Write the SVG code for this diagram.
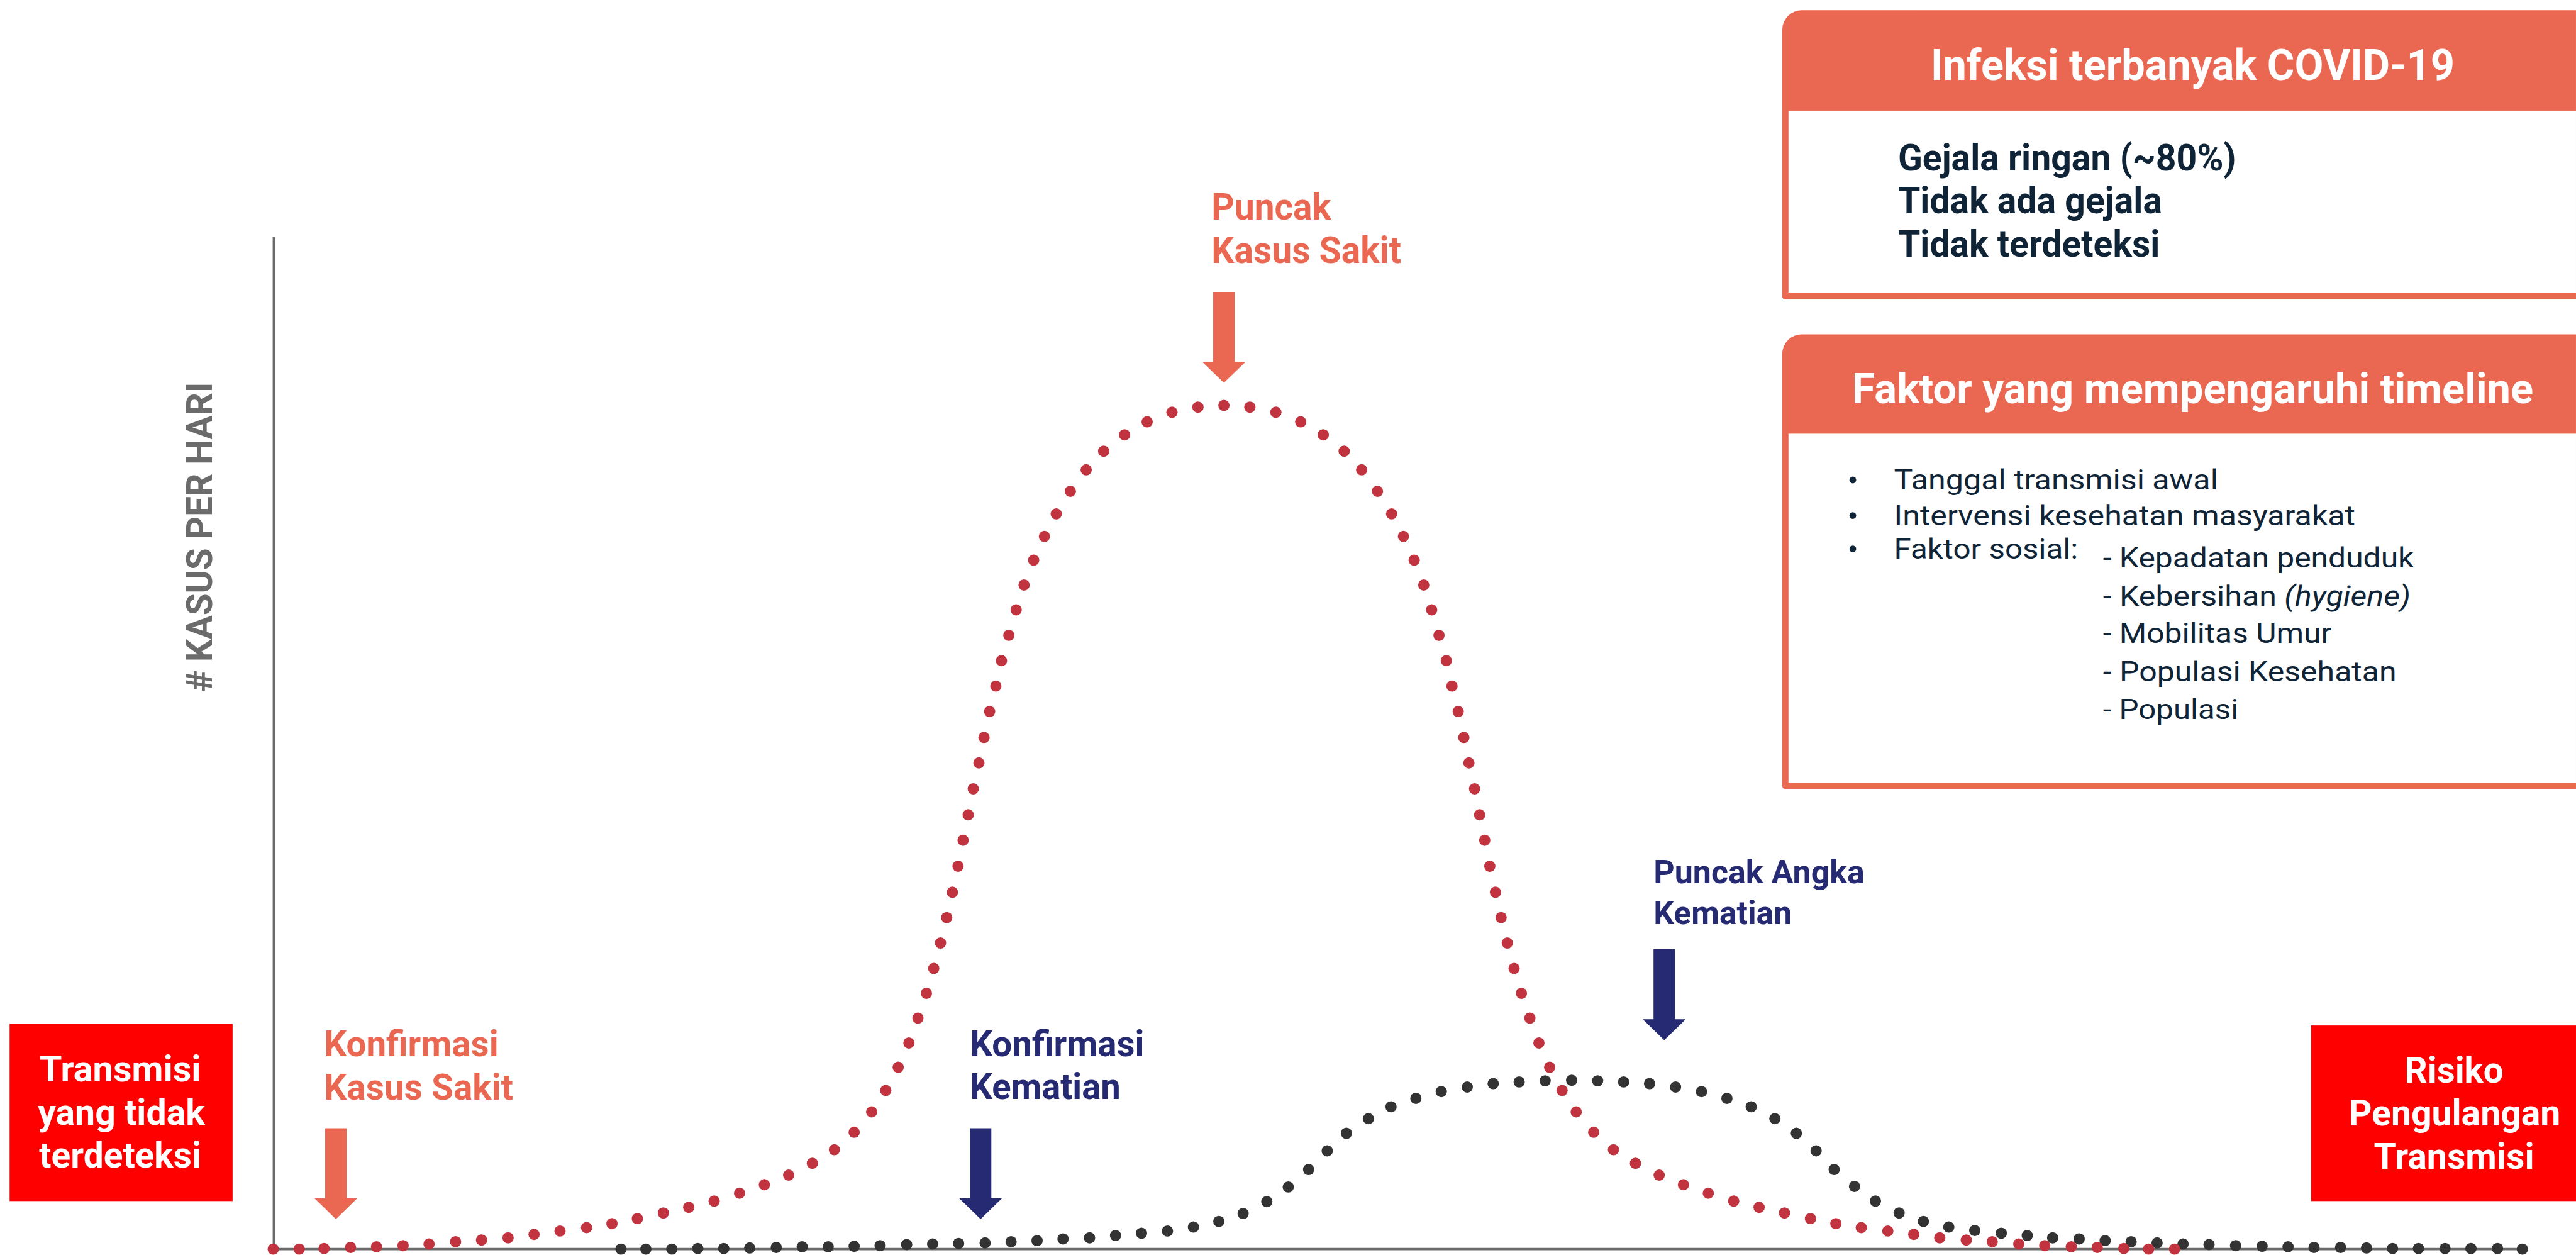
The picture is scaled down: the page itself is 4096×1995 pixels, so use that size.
<svg xmlns="http://www.w3.org/2000/svg" xmlns:xlink="http://www.w3.org/1999/xlink" width="4096" height="1995" viewBox="0 0 4096 1995">
<style>
.b{font-family:Roboto,'Liberation Sans',sans-serif;font-weight:700}
.r{font-family:Roboto,'Liberation Sans',sans-serif;font-weight:400}
.white{fill:#ffffff}
.org{fill:#EA6852}
.navy{fill:#252A72}
.ink{fill:#0F2537}
.gray{fill:#6B6B6B}
.reddot{fill:#C1343F}
.blkdot{fill:#333333}
</style>
<defs>
<path id="arrow" d="M-19,0 H19 V124 H38 L0,161 L-38,124 H-19 Z"/>
</defs>
<rect x="0" y="0" width="4096" height="1995" fill="#ffffff"/>
<g transform="scale(0.89765)">

<g id="axes" fill="none" stroke="#6B6B6B">
<line x1="485" y1="420" x2="485" y2="2212" stroke-width="4"/>
<line x1="484" y1="2212" x2="4476" y2="2212" stroke-width="4"/>
</g>

<g id="y-label">
<text class="b gray" font-size="63" transform="translate(375,951) rotate(-90)" text-anchor="middle" textLength="548" lengthAdjust="spacingAndGlyphs">#  KASUS PER HARI</text>
</g>

<g id="curve-deaths" class="blkdot">
<circle cx="1100" cy="2212" r="10"/><circle cx="1144" cy="2212" r="10"/><circle cx="1190" cy="2212" r="10"/><circle cx="1236" cy="2211" r="10"/><circle cx="1282" cy="2211" r="10"/><circle cx="1328" cy="2210" r="10"/><circle cx="1375" cy="2209" r="10"/><circle cx="1421" cy="2208" r="10"/><circle cx="1467" cy="2208" r="10"/><circle cx="1513" cy="2207" r="10"/><circle cx="1559" cy="2206" r="10"/><circle cx="1606" cy="2204" r="10"/><circle cx="1652" cy="2203" r="10"/><circle cx="1698" cy="2202" r="10"/><circle cx="1745" cy="2201" r="10"/><circle cx="1791" cy="2199" r="10"/><circle cx="1837" cy="2197" r="10"/><circle cx="1883" cy="2194" r="10"/><circle cx="1930" cy="2192" r="10"/><circle cx="1976" cy="2188" r="10"/><circle cx="2022" cy="2184" r="10"/><circle cx="2068" cy="2180" r="10"/><circle cx="2114" cy="2173" r="10"/><circle cx="2159" cy="2163" r="10"/><circle cx="2202" cy="2149" r="10"/><circle cx="2244" cy="2128" r="10"/><circle cx="2282" cy="2102" r="10"/><circle cx="2318" cy="2071" r="10"/><circle cx="2351" cy="2038" r="10"/><circle cx="2385" cy="2007" r="10"/><circle cx="2424" cy="1981" r="10"/><circle cx="2464" cy="1960" r="10"/><circle cx="2508" cy="1945" r="10"/><circle cx="2553" cy="1933" r="10"/><circle cx="2599" cy="1925" r="10"/><circle cx="2645" cy="1919" r="10"/><circle cx="2691" cy="1916" r="10"/><circle cx="2737" cy="1914" r="10"/><circle cx="2784" cy="1913" r="10"/><circle cx="2830" cy="1914" r="10"/><circle cx="2876" cy="1916" r="10"/><circle cx="2922" cy="1919" r="10"/><circle cx="2968" cy="1925" r="10"/><circle cx="3014" cy="1933" r="10"/><circle cx="3059" cy="1945" r="10"/><circle cx="3102" cy="1960" r="10"/><circle cx="3144" cy="1981" r="10"/><circle cx="3182" cy="2007" r="10"/><circle cx="3217" cy="2038" r="10"/><circle cx="3249" cy="2071" r="10"/><circle cx="3285" cy="2101" r="10"/><circle cx="3322" cy="2127" r="10"/><circle cx="3364" cy="2148" r="10"/><circle cx="3407" cy="2163" r="10"/><circle cx="3452" cy="2173" r="10"/><circle cx="3498" cy="2179" r="10"/><circle cx="3545" cy="2184" r="10"/><circle cx="3591" cy="2188" r="10"/><circle cx="3636" cy="2192" r="10"/><circle cx="3683" cy="2194" r="10"/><circle cx="3729" cy="2197" r="10"/><circle cx="3775" cy="2199" r="10"/><circle cx="3821" cy="2201" r="10"/><circle cx="3867" cy="2203" r="10"/><circle cx="3913" cy="2204" r="10"/><circle cx="3960" cy="2206" r="10"/><circle cx="4007" cy="2207" r="10"/><circle cx="4053" cy="2208" r="10"/><circle cx="4099" cy="2209" r="10"/><circle cx="4146" cy="2209" r="10"/><circle cx="4192" cy="2210" r="10"/><circle cx="4238" cy="2211" r="10"/><circle cx="4284" cy="2211" r="10"/><circle cx="4331" cy="2211" r="10"/><circle cx="4377" cy="2211" r="10"/><circle cx="4424" cy="2211" r="10"/><circle cx="4468" cy="2212" r="10"/>
</g>

<g id="curve-cases" class="reddot">
<circle cx="484" cy="2212" r="10"/><circle cx="530" cy="2212" r="10"/><circle cx="574" cy="2211" r="10"/><circle cx="621" cy="2209" r="10"/><circle cx="667" cy="2208" r="10"/><circle cx="714" cy="2206" r="10"/><circle cx="760" cy="2203" r="10"/><circle cx="807" cy="2199" r="10"/><circle cx="853" cy="2196" r="10"/><circle cx="900" cy="2192" r="10"/><circle cx="946" cy="2186" r="10"/><circle cx="992" cy="2180" r="10"/><circle cx="1039" cy="2174" r="10"/><circle cx="1084" cy="2167" r="10"/><circle cx="1129" cy="2158" r="10"/><circle cx="1175" cy="2148" r="10"/><circle cx="1220" cy="2138" r="10"/><circle cx="1265" cy="2127" r="10"/><circle cx="1310" cy="2113" r="10"/><circle cx="1354" cy="2098" r="10"/><circle cx="1397" cy="2081" r="10"/><circle cx="1439" cy="2060" r="10"/><circle cx="1478" cy="2036" r="10"/><circle cx="1513" cy="2005" r="10"/><circle cx="1544" cy="1969" r="10"/><circle cx="1569" cy="1931" r="10"/><circle cx="1591" cy="1890" r="10"/><circle cx="1610" cy="1847" r="10"/><circle cx="1626" cy="1803" r="10"/><circle cx="1641" cy="1759" r="10"/><circle cx="1654" cy="1715" r="10"/><circle cx="1666" cy="1670" r="10"/><circle cx="1677" cy="1625" r="10"/><circle cx="1687" cy="1580" r="10"/><circle cx="1697" cy="1534" r="10"/><circle cx="1706" cy="1488" r="10"/><circle cx="1715" cy="1443" r="10"/><circle cx="1724" cy="1397" r="10"/><circle cx="1734" cy="1351" r="10"/><circle cx="1743" cy="1306" r="10"/><circle cx="1753" cy="1260" r="10"/><circle cx="1764" cy="1215" r="10"/><circle cx="1774" cy="1170" r="10"/><circle cx="1787" cy="1125" r="10"/><circle cx="1800" cy="1080" r="10"/><circle cx="1814" cy="1036" r="10"/><circle cx="1831" cy="992" r="10"/><circle cx="1850" cy="950" r="10"/><circle cx="1871" cy="910" r="10"/><circle cx="1896" cy="870" r="10"/><circle cx="1924" cy="832" r="10"/><circle cx="1955" cy="799" r="10"/><circle cx="1992" cy="770" r="10"/><circle cx="2032" cy="747" r="10"/><circle cx="2076" cy="730" r="10"/><circle cx="2122" cy="721" r="10"/><circle cx="2168" cy="718" r="10"/>
<circle cx="2214" cy="721" r="10"/><circle cx="2260" cy="730" r="10"/><circle cx="2304" cy="747" r="10"/><circle cx="2344" cy="770" r="10"/><circle cx="2381" cy="799" r="10"/><circle cx="2412" cy="832" r="10"/><circle cx="2440" cy="870" r="10"/><circle cx="2465" cy="910" r="10"/><circle cx="2486" cy="950" r="10"/><circle cx="2505" cy="992" r="10"/><circle cx="2522" cy="1036" r="10"/><circle cx="2536" cy="1080" r="10"/><circle cx="2549" cy="1125" r="10"/><circle cx="2562" cy="1170" r="10"/><circle cx="2572" cy="1215" r="10"/><circle cx="2583" cy="1260" r="10"/><circle cx="2593" cy="1306" r="10"/><circle cx="2602" cy="1351" r="10"/><circle cx="2612" cy="1397" r="10"/><circle cx="2621" cy="1443" r="10"/><circle cx="2630" cy="1488" r="10"/><circle cx="2639" cy="1534" r="10"/><circle cx="2649" cy="1580" r="10"/><circle cx="2659" cy="1625" r="10"/><circle cx="2670" cy="1670" r="10"/><circle cx="2682" cy="1715" r="10"/><circle cx="2695" cy="1759" r="10"/><circle cx="2710" cy="1803" r="10"/><circle cx="2726" cy="1847" r="10"/><circle cx="2745" cy="1890" r="10"/><circle cx="2767" cy="1931" r="10"/><circle cx="2792" cy="1969" r="10"/><circle cx="2823" cy="2005" r="10"/><circle cx="2858" cy="2036" r="10"/><circle cx="2897" cy="2060" r="10"/><circle cx="2939" cy="2081" r="10"/><circle cx="2982" cy="2098" r="10"/><circle cx="3026" cy="2113" r="10"/><circle cx="3071" cy="2127" r="10"/><circle cx="3116" cy="2138" r="10"/><circle cx="3161" cy="2148" r="10"/><circle cx="3207" cy="2158" r="10"/><circle cx="3252" cy="2167" r="10"/><circle cx="3297" cy="2174" r="10"/><circle cx="3344" cy="2180" r="10"/><circle cx="3390" cy="2186" r="10"/><circle cx="3436" cy="2192" r="10"/><circle cx="3483" cy="2196" r="10"/><circle cx="3529" cy="2199" r="10"/><circle cx="3576" cy="2203" r="10"/><circle cx="3622" cy="2206" r="10"/><circle cx="3669" cy="2208" r="10"/><circle cx="3715" cy="2209" r="10"/><circle cx="3762" cy="2211" r="10"/><circle cx="3806" cy="2212" r="10"/><circle cx="3852" cy="2212" r="10"/>
</g>

<g id="connectors">
<use xlink:href="#arrow" href="#arrow" class="org" transform="translate(2168,517)"/>
<use xlink:href="#arrow" href="#arrow" class="org" transform="translate(595,1998)"/>
<use xlink:href="#arrow" href="#arrow" class="navy" transform="translate(1737,1998)"/>
<use xlink:href="#arrow" href="#arrow" class="navy" transform="translate(2948,1681)"/>
</g>

<g id="label-puncak-kasus">
<text class="b org" font-size="65" x="2146" y="389" textLength="212" lengthAdjust="spacingAndGlyphs">Puncak</text>
<text class="b org" font-size="65" x="2146" y="466" textLength="336" lengthAdjust="spacingAndGlyphs">Kasus Sakit</text>
</g>

<g id="label-konfirmasi-kasus">
<text class="b org" font-size="63" x="574" y="1870" textLength="309" lengthAdjust="spacingAndGlyphs">Konfirmasi</text>
<text class="b org" font-size="63" x="574" y="1947" textLength="335" lengthAdjust="spacingAndGlyphs">Kasus Sakit</text>
</g>

<g id="label-konfirmasi-kematian">
<text class="b navy" font-size="63" x="1718" y="1870" textLength="309" lengthAdjust="spacingAndGlyphs">Konfirmasi</text>
<text class="b navy" font-size="63" x="1718" y="1946" textLength="267" lengthAdjust="spacingAndGlyphs">Kematian</text>
</g>

<g id="label-puncak-kematian">
<text class="b navy" font-size="57" x="2929" y="1564" textLength="374" lengthAdjust="spacingAndGlyphs">Puncak Angka</text>
<text class="b navy" font-size="57" x="2929" y="1636" textLength="245" lengthAdjust="spacingAndGlyphs">Kematian</text>
</g>

<g id="box-transmisi-tidak-terdeteksi">
<rect x="17" y="1813" width="395" height="314" fill="#FF0000"/>
<text class="b white" font-size="63" x="213" y="1915" text-anchor="middle" textLength="286" lengthAdjust="spacingAndGlyphs">Transmisi</text>
<text class="b white" font-size="63" x="215" y="1992" text-anchor="middle" textLength="296" lengthAdjust="spacingAndGlyphs">yang tidak</text>
<text class="b white" font-size="63" x="213" y="2068" text-anchor="middle" textLength="287" lengthAdjust="spacingAndGlyphs">terdeteksi</text>
</g>

<g id="box-risiko">
<rect x="4094" y="1816" width="469" height="311" fill="#FF0000"/>
<text class="b white" font-size="63" x="4347" y="1917" text-anchor="middle" textLength="175" lengthAdjust="spacingAndGlyphs">Risiko</text>
<text class="b white" font-size="63" x="4348" y="1993" text-anchor="middle" textLength="375" lengthAdjust="spacingAndGlyphs">Pengulangan</text>
<text class="b white" font-size="63" x="4347" y="2070" text-anchor="middle" textLength="284" lengthAdjust="spacingAndGlyphs">Transmisi</text>
</g>

<g id="box-infeksi">
<path d="M3157,525 V53 A35,35 0 0 1 3192,18 H4563 V530 H3162 A5,5 0 0 1 3157,525 Z" fill="#EA6852"/>
<rect x="3168" y="196" width="1395" height="322" fill="#ffffff"/>
<text class="b white" font-size="77" x="3884" y="142" text-anchor="middle" textLength="928" lengthAdjust="spacingAndGlyphs">Infeksi terbanyak COVID-19</text>
<text class="b ink" font-size="65" x="3362" y="302" textLength="599" lengthAdjust="spacingAndGlyphs">Gejala ringan (~80%)</text>
<text class="b ink" font-size="65" x="3362" y="378" textLength="468" lengthAdjust="spacingAndGlyphs">Tidak ada gejala</text>
<text class="b ink" font-size="65" x="3362" y="455" textLength="464" lengthAdjust="spacingAndGlyphs">Tidak terdeteksi</text>
</g>

<g id="box-faktor">
<path d="M3157,1392 V627 A35,35 0 0 1 3192,592 H4563 V1397 H3162 A5,5 0 0 1 3157,1392 Z" fill="#EA6852"/>
<rect x="3168" y="768" width="1395" height="618" fill="#ffffff"/>
<text class="b white" font-size="74" x="3884" y="714" text-anchor="middle" textLength="1207" lengthAdjust="spacingAndGlyphs">Faktor yang mempengaruhi timeline</text>
<g class="ink">
<circle cx="3282" cy="850" r="6"/>
<circle cx="3282" cy="913" r="6"/>
<circle cx="3282" cy="972" r="6"/>
</g>
<text class="r ink" font-size="50" x="3355" y="867" textLength="574" lengthAdjust="spacingAndGlyphs">Tanggal transmisi awal</text>
<text class="r ink" font-size="50" x="3355" y="930" textLength="817" lengthAdjust="spacingAndGlyphs">Intervensi kesehatan masyarakat</text>
<text class="r ink" font-size="50" x="3355" y="989" textLength="326" lengthAdjust="spacingAndGlyphs">Faktor sosial:</text>
<text class="r ink" font-size="50" x="3725" y="1005" textLength="551" lengthAdjust="spacingAndGlyphs">- Kepadatan penduduk</text>
<text class="r ink" font-size="50" x="3725" y="1073" textLength="545" lengthAdjust="spacingAndGlyphs">- Kebersihan <tspan font-style="italic">(hygiene)</tspan></text>
<text class="r ink" font-size="50" x="3725" y="1139" textLength="405" lengthAdjust="spacingAndGlyphs">- Mobilitas Umur</text>
<text class="r ink" font-size="50" x="3725" y="1207" textLength="520" lengthAdjust="spacingAndGlyphs">- Populasi Kesehatan</text>
<text class="r ink" font-size="50" x="3725" y="1273" textLength="240" lengthAdjust="spacingAndGlyphs">- Populasi</text>
</g>

</g>
</svg>
